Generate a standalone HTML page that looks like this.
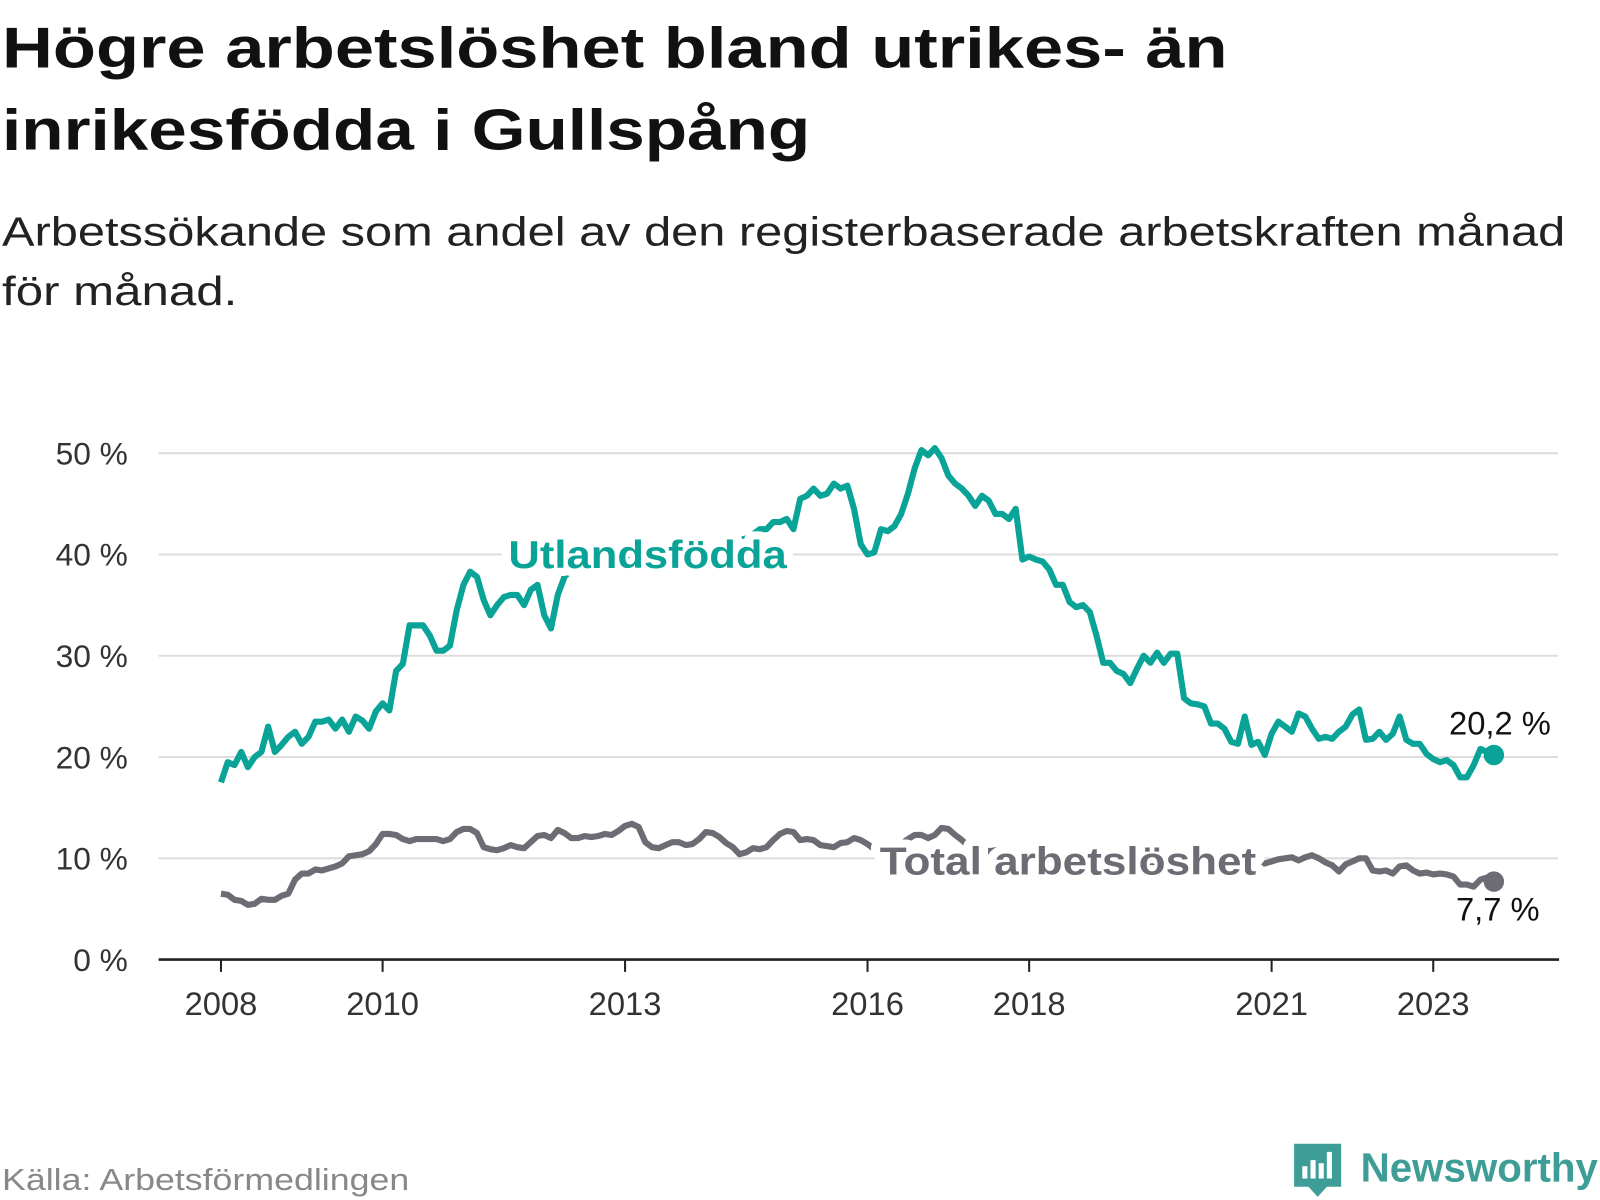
<!DOCTYPE html>
<html lang="sv"><head><meta charset="utf-8"><title>Arbetslöshet Gullspång</title>
<style>
html,body{margin:0;padding:0;background:#fff;}
svg{display:block;font-family:"Liberation Sans",sans-serif;}
</style></head>
<body>
<svg id="chart" width="1600" height="1200" viewBox="0 0 1564 1173" xmlns="http://www.w3.org/2000/svg">
<text x="2" y="66" font-size="56" font-weight="bold" fill="#111" textLength="1198" lengthAdjust="spacingAndGlyphs">Högre arbetslöshet bland utrikes- än</text>
<text x="2" y="146" font-size="56" font-weight="bold" fill="#111" textLength="790" lengthAdjust="spacingAndGlyphs">inrikesfödda i Gullspång</text>
<text x="2" y="240" font-size="40" fill="#222" textLength="1528" lengthAdjust="spacingAndGlyphs">Arbetssökande som andel av den registerbaserade arbetskraften månad</text>
<text x="2" y="298" font-size="40" fill="#222" textLength="230" lengthAdjust="spacingAndGlyphs">för månad.</text>
<g id="grid"></g>
<g id="yticks"></g>
<g id="xaxis"></g>
<g id="series"></g>
<text x="2" y="1163" font-size="30" fill="#888" textLength="398" lengthAdjust="spacingAndGlyphs">Källa: Arbetsförmedlingen</text>
<g>
<path d="M1265 1118 h46 v42 h-14 l-9 10 l-9 -10 h-14 z" fill="#3e9e97"/>
<rect x="1273" y="1140" width="5" height="12" fill="#fff"/><rect x="1281" y="1134" width="5" height="18" fill="#fff"/><rect x="1289" y="1137" width="5" height="15" fill="#fff"/><rect x="1297" y="1126" width="5" height="26" fill="#fff"/>
<text x="1330" y="1155" font-size="40" font-weight="bold" fill="#3e9e97" textLength="232" lengthAdjust="spacingAndGlyphs">Newsworthy</text>
</g>
</svg>
<script>
const xTicks=[2008,2010,2013,2016,2018,2021,2023];
const yTicks=[0,10,20,30,40,50];
const startYear=2008;
const utlandsfodda=[17.5,19.5,19.2,20.5,19,20,20.5,23,20.5,21.2,22,22.5,21.3,22,23.5,23.5,23.7,22.8,23.7,22.5,24,23.6,22.8,24.5,25.3,24.6,28.5,29.2,33,33,33,32,30.5,30.5,31,34.5,37,38.3,37.8,35.5,34,35,35.8,36,36,35,36.5,37,34,32.7,36,37.8,
38.5,39,38.8,39.5,39.3,39.8,40,39.6,40.2,39.8,40.3,40,40.5,40.1,40.6,40.2,40.8,40.4,40.9,40.5,41,40.6,41.1,41.3,41,41.4,41.6,
42,42.5,42.5,43.2,43.2,43.5,42.5,45.5,45.8,46.5,45.8,46,47,46.5,46.8,44.5,41,40,40.2,42.5,42.3,42.8,44,46,48.5,50.3,49.8,50.5,49.5,47.8,47,46.5,45.8,44.8,45.8,45.3,44,44,43.5,44.5,39.5,39.8,39.5,39.3,38.5,37,37,35.3,34.8,35,34.3,32,29.3,29.3,28.5,28.2,27.3,28.7,30,29.3,30.3,29.3,30.2,30.2,25.8,25.3,25.2,25,23.3,23.3,22.8,21.5,21.3,24,21.2,21.5,20.2,22.3,23.5,23,22.5,24.3,24,22.8,21.8,22,21.8,22.5,23,24.2,24.7,21.7,21.8,22.5,21.7,22.3,24,21.7,21.3,21.3,20.3,19.8,19.5,19.7,19.2,18,18,19.2,20.8,20.5,20.2];
const total=[6.5,6.4,5.9,5.8,5.4,5.5,6,5.9,5.9,6.3,6.5,7.9,8.5,8.5,8.9,8.8,9,9.2,9.5,10.2,10.3,10.4,10.7,11.4,12.4,12.4,12.3,11.9,11.7,11.9,11.9,11.9,11.9,11.7,11.9,12.6,12.9,12.9,12.5,11.1,10.9,10.8,11,11.3,11.1,11,11.6,12.2,12.3,12,12.8,12.5,12,12,12.2,12.1,12.2,12.4,12.3,12.7,13.2,13.4,13.1,11.6,11.1,11,11.3,11.6,11.6,11.3,11.4,11.9,12.6,12.5,12.1,11.5,11.1,10.4,10.6,11,10.9,11.1,11.8,12.4,12.7,12.6,11.8,11.9,11.8,11.3,11.2,11.1,11.5,11.6,12,11.8,11.4,
10.9,10.7,10.9,11.1,11.4,11.9,12.3,12.3,12,12.3,13,12.9,12.3,11.8,
11.2,10.9,11,10.7,10.8,10.6,10.4,10.6,10.5,10.3,10.4,10.2,10.1,10.3,10.1,10,10.2,9.9,10,9.8,9.7,9.9,9.7,9.6,9.8,9.6,9.7,9.5,9.6,9.4,9.5,9.3,9.4,9.3,9.4,9.2,9.3,9.2,9.3,9.2,9.3,9.3,9.2,9.4,
9.5,9.7,9.9,10,10.1,9.8,10.1,10.3,10,9.6,9.3,8.7,9.4,9.7,10,10,8.8,8.7,8.8,8.5,9.2,9.3,8.8,8.5,8.6,8.4,8.5,8.4,8.2,7.4,7.4,7.2,7.9,8.1,7.7];
const endLabels=["20,2 %","7,7 %"];

const NS="http://www.w3.org/2000/svg";
const X0=216, PXY=79, Y0=938, PXV=9.9;
const xs=y=>X0+(y-startYear)*PXY;
const ys=v=>Y0-v*PXV;
const xm=i=>xs(startYear+i/12);
function mk(tag,attrs,parent){const e=document.createElementNS(NS,tag);for(const k in attrs)e.setAttribute(k,attrs[k]);parent.appendChild(e);return e;}
const grid=document.getElementById('grid'),yt=document.getElementById('yticks'),xa=document.getElementById('xaxis'),ser=document.getElementById('series');
yTicks.forEach(v=>{
  if(v>0){const l=mk('line',{x1:155,x2:1523,y1:ys(v),y2:ys(v),stroke:'#ddd','stroke-width':2},grid);
  
  }
  const t=mk('text',{x:125,y:ys(v)+11,'font-size':31,fill:'#333','text-anchor':'end'},yt);
  t.textContent=v+' %';
  
  
});
const base=mk('line',{x1:155,x2:1524,y1:Y0,y2:Y0,stroke:'#222','stroke-width':2.5},xa);


xTicks.forEach(y=>{
  const tk=mk('line',{x1:xs(y),x2:xs(y),y1:Y0,y2:Y0+12,stroke:'#222','stroke-width':2},xa);
  
  
  const t=mk('text',{x:xs(y),y:Y0+54,'font-size':32,fill:'#333','text-anchor':'middle'},xa);
  t.textContent=y;
  
  
});
function line(arr,color,name){
  const d=arr.map((v,i)=>(i?'L':'M')+xm(i).toFixed(1)+' '+ys(v).toFixed(1)).join(' ');
  const p=mk('path',{d:d,fill:'none',stroke:color,'stroke-width':6,'stroke-linejoin':'round'},ser);
  
  
  const n=arr.length-1;
  const c=mk('circle',{cx:xm(n),cy:ys(arr[n]),r:10,fill:color},ser);
  
  
}
line(total,'#6d6c74','line-total');
line(utlandsfodda,'#0aa397','line-utlandsfodda');
const l1=mk('text',{x:497,y:555,'font-size':38,'font-weight':'bold',fill:'#0aa397',stroke:'#fff','stroke-width':16,'paint-order':'stroke','stroke-linejoin':'round',textLength:272,lengthAdjust:'spacingAndGlyphs'},ser);
l1.textContent='Utlandsfödda';


const l2=mk('text',{x:860,y:855,'font-size':38,'font-weight':'bold',fill:'#6d6c74',stroke:'#fff','stroke-width':16,'paint-order':'stroke','stroke-linejoin':'round',textLength:368,lengthAdjust:'spacingAndGlyphs'},ser);
l2.textContent='Total arbetslöshet';


const e1=mk('text',{x:1516,y:718,'font-size':32,fill:'#111','text-anchor':'end'},ser);
e1.textContent=endLabels[0];


const e2=mk('text',{x:1505,y:900,'font-size':32,fill:'#111','text-anchor':'end'},ser);
e2.textContent=endLabels[1];


</script>
</body></html>
